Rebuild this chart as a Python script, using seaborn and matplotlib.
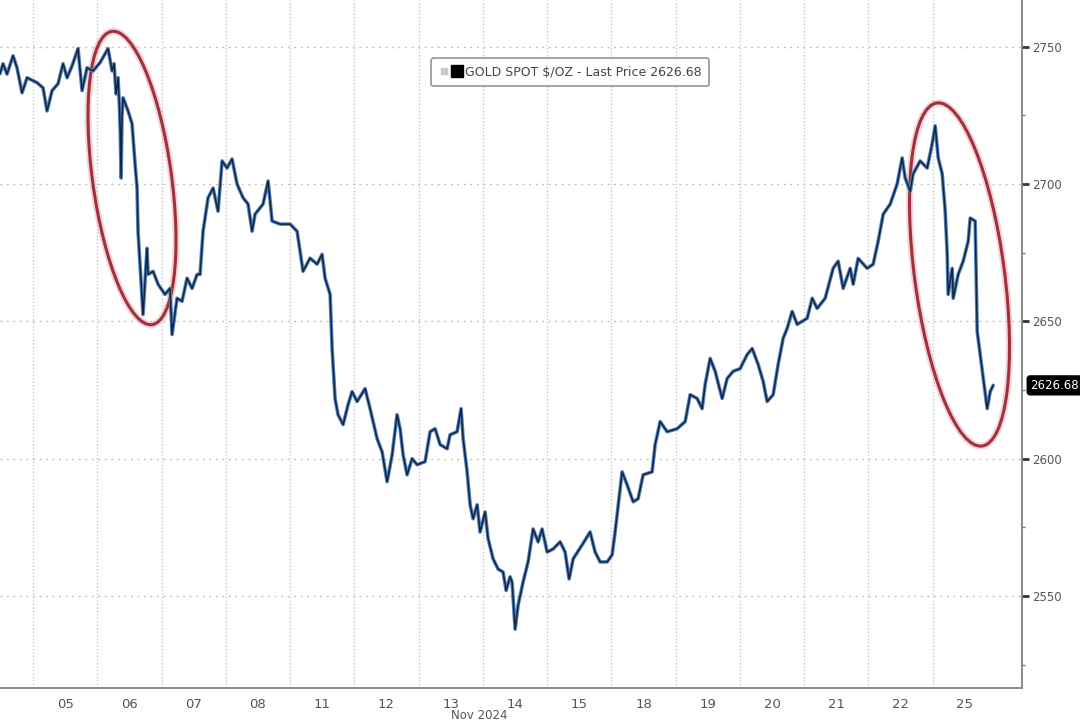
import numpy as np
import pandas as pd
import matplotlib
matplotlib.use("Agg")
import matplotlib.pyplot as plt
import seaborn as sns
from matplotlib.patches import Ellipse
from matplotlib.lines import Line2D
from matplotlib.legend_handler import HandlerTuple
import matplotlib.transforms as mtransforms

# trading days shown on the axis (Nov 2024)
days = ["05", "06", "07", "08", "11", "12", "13", "14", "15", "18", "19", "20", "21", "22", "25"]

# position in trading days from the start of Nov 05
t = [-0.514, -0.467, -0.405, -0.311, -0.249, -0.171, -0.093, 0.062, 0.156, 0.218,
     0.296, 0.389, 0.467, 0.529, 0.607, 0.700, 0.763, 0.840, 0.934, 1.043,
     1.167, 1.230, 1.261, 1.292, 1.323, 1.345, 1.357, 1.370, 1.385, 1.401,
     1.479, 1.541, 1.588, 1.619, 1.634, 1.696, 1.712, 1.774, 1.790, 1.868,
     1.946, 2.054, 2.132, 2.163, 2.241, 2.319, 2.397, 2.475, 2.553, 2.599,
     2.646, 2.724, 2.802, 2.879, 2.942, 3.019, 3.097, 3.175, 3.268, 3.346,
     3.409, 3.455, 3.580, 3.658, 3.720, 3.844, 4.000, 4.109, 4.156, 4.202,
     4.311, 4.420, 4.498, 4.545, 4.623, 4.654, 4.700, 4.747, 4.825, 4.903,
     4.965, 5.043, 5.167, 5.245, 5.354, 5.432, 5.510, 5.588, 5.665, 5.712,
     5.759, 5.821, 5.899, 5.977, 6.101, 6.179, 6.257, 6.335, 6.444, 6.490,
     6.599, 6.661, 6.693, 6.755, 6.802, 6.848, 6.911, 6.957, 7.035, 7.082,
     7.160, 7.237, 7.315, 7.362, 7.424, 7.455, 7.502, 7.549, 7.626, 7.704,
     7.782, 7.860, 7.922, 8.000, 8.093, 8.202, 8.280, 8.342, 8.405, 8.545,
     8.669, 8.747, 8.825, 8.934, 9.012, 9.058, 9.167, 9.245, 9.339, 9.416,
     9.494, 9.634, 9.681, 9.759, 9.868, 10.023, 10.148, 10.226, 10.335, 10.412,
     10.459, 10.537, 10.615, 10.724, 10.802, 10.895, 11.004, 11.113, 11.191, 11.284,
     11.362, 11.424, 11.518, 11.595, 11.673, 11.735, 11.813, 11.891, 12.047, 12.125,
     12.202, 12.327, 12.451, 12.529, 12.607, 12.716, 12.763, 12.840, 12.981, 13.074,
     13.152, 13.230, 13.339, 13.447, 13.525, 13.572, 13.650, 13.696, 13.805, 13.914,
     13.992, 14.039, 14.086, 14.148, 14.195, 14.226, 14.241, 14.304, 14.319, 14.397,
     14.475, 14.553, 14.584, 14.661, 14.693, 14.739, 14.786, 14.848, 14.895, 14.942]

# gold spot price, $/oz
price = [2740.1, 2743.8, 2740.0, 2746.7, 2742.3, 2733.2, 2738.7, 2736.9, 2735.0, 2726.6,
         2734.0, 2736.5, 2743.8, 2738.7, 2743.0, 2749.3, 2734.0, 2742.3, 2741.2, 2744.2,
         2749.3, 2741.2, 2743.8, 2732.8, 2738.7, 2728.0, 2719.3, 2702.2, 2725.0, 2731.4,
         2726.6, 2721.9, 2707.3, 2698.5, 2682.8, 2658.4, 2652.5, 2676.6, 2667.1, 2668.2,
         2663.5, 2659.8, 2662.0, 2645.2, 2658.4, 2657.3, 2665.7, 2662.0, 2667.1, 2667.1,
         2682.8, 2695.0, 2698.5, 2690.1, 2708.4, 2705.8, 2709.1, 2700.0, 2695.0, 2692.7,
         2682.8, 2689.0, 2692.7, 2701.1, 2686.5, 2685.4, 2685.4, 2682.8, 2675.5, 2668.2,
         2673.0, 2670.8, 2674.4, 2665.7, 2659.8, 2640.1, 2621.9, 2616.0, 2612.4, 2619.7,
         2624.4, 2620.8, 2625.5, 2618.2, 2607.3, 2602.5, 2591.6, 2601.4, 2616.0, 2610.9,
         2601.4, 2594.1, 2600.0, 2597.8, 2598.9, 2609.8, 2610.9, 2605.1, 2603.6, 2608.7,
         2609.8, 2618.2, 2607.3, 2595.2, 2583.2, 2578.1, 2583.2, 2573.3, 2580.6, 2570.8,
         2563.5, 2559.8, 2558.7, 2552.0, 2557.0, 2555.0, 2537.9, 2546.7, 2555.1, 2562.4,
         2574.4, 2569.7, 2574.4, 2566.0, 2567.1, 2569.7, 2566.0, 2556.2, 2563.5, 2568.6,
         2573.3, 2566.0, 2562.4, 2562.4, 2565.0, 2573.3, 2595.2, 2590.5, 2584.3, 2585.4,
         2594.1, 2595.2, 2605.1, 2613.5, 2609.8, 2610.9, 2613.5, 2623.3, 2621.9, 2618.2,
         2627.0, 2636.5, 2631.8, 2621.9, 2629.2, 2631.8, 2632.8, 2637.9, 2640.1, 2634.3,
         2628.1, 2620.8, 2623.3, 2634.3, 2643.8, 2647.4, 2653.6, 2648.9, 2651.1, 2658.4,
         2654.7, 2658.4, 2669.3, 2671.9, 2662.0, 2669.3, 2663.5, 2672.9, 2669.3, 2670.8,
         2679.2, 2689.0, 2692.7, 2700.0, 2709.5, 2702.2, 2697.4, 2703.7, 2708.4, 2705.8,
         2714.6, 2721.2, 2709.5, 2703.7, 2690.1, 2674.4, 2659.8, 2669.3, 2658.4, 2667.1,
         2671.9, 2679.2, 2687.6, 2686.5, 2646.3, 2637.9, 2629.2, 2618.2, 2624.4, 2626.7]

last_price = 2626.68
major_ticks = [2550, 2600, 2650, 2700, 2750]
minor_ticks = [2525, 2575, 2625, 2675, 2725]

df = pd.DataFrame({"t": t, "price": price})

sns.set_style("white")
plt.rcParams["font.family"] = ["DejaVu Sans"]

fig = plt.figure(figsize=(10.8, 7.21), dpi=100)
ax = fig.add_axes([0.0, 0.0458, 0.9463, 0.9542])

# blue body with a dark core, like the terminal line
sns.lineplot(data=df, x="t", y="price", ax=ax, color="#4f82c2", lw=2.6, estimator=None, sort=False)
sns.lineplot(data=df, x="t", y="price", ax=ax, color="#0e1a2c", lw=1.1, alpha=0.9, estimator=None, sort=False)

ax.set_xlim(-0.514, 15.39)
ax.set_ylim(2516.5, 2767)

# grid: day boundaries and price levels
ax.set_xticks(np.arange(len(days)), minor=True)
ax.set_xticks(np.arange(len(days)) + 0.5)
ax.set_xticklabels(days)
ax.yaxis.tick_right()
ax.set_yticks(major_ticks)
ax.set_yticks(minor_ticks, minor=True)
ax.grid(which="minor", axis="x", color="#c8c8c8", lw=1.0, ls=(0, (1, 1.5)))
ax.grid(which="major", axis="y", color="#b8b8b8", lw=1.0, ls=(0, (1.2, 3.5)))
ax.grid(which="major", axis="x", visible=False)

ax.tick_params(axis="x", which="both", length=0, pad=7, labelsize=9.5, labelcolor="#555555")
ax.tick_params(axis="y", which="major", length=5, width=2, color="#333333", pad=2,
               labelsize=8.5, labelcolor="#555555")
ax.tick_params(axis="y", which="minor", length=2, width=1, color="#777777")
ax.set_xlabel("")
ax.set_ylabel("")
for s in ["left", "top"]:
    ax.spines[s].set_visible(False)
for s in ["right", "bottom"]:
    ax.spines[s].set_color("#8a8a8a")
    ax.spines[s].set_linewidth(1.4)

fig.text(0.444, 0.017, "Nov 2024", ha="center", va="top", fontsize=8.5, color="#555555")

# legend box
h_small = Line2D([], [], marker="s", ls="none", color="#c8c8c8", markersize=4)
h_big = Line2D([], [], marker="s", ls="none", color="black", markersize=8)
leg = ax.legend(handles=[(h_small, h_big)], labels=["GOLD SPOT $/OZ - Last Price 2626.68"],
                handler_map={tuple: HandlerTuple(ndivide=None, pad=0.3)},
                loc="center", bbox_to_anchor=(0.558, 0.895), frameon=True, fancybox=True,
                fontsize=9, handlelength=1.8, handletextpad=0.3, borderpad=0.6)
leg.get_frame().set_edgecolor("#7a7a7a")
leg.get_frame().set_linewidth(1.2)
for txt in leg.get_texts():
    txt.set_color("#444444")

# last price tag on the right axis
trans = mtransforms.blended_transform_factory(ax.transAxes, ax.transData)
ax.text(1.008, last_price, f"{last_price:.2f}", transform=trans, ha="left", va="center",
        fontsize=8.5, color="white", clip_on=False,
        bbox=dict(boxstyle="round,pad=0.25", fc="black", ec="black"))

# red circles drawn in inches so they keep their shape
for cx, cy, w, h, ang in [(1.32, 5.43, 0.79, 2.96, 7.8), (9.595, 4.465, 0.90, 3.46, 7.5)]:
    glow = Ellipse((cx, cy), w, h, angle=ang, transform=fig.dpi_scale_trans,
                   fill=False, ec="#e8a0a8", lw=5, alpha=0.45, clip_on=False)
    ring = Ellipse((cx, cy), w, h, angle=ang, transform=fig.dpi_scale_trans,
                   fill=False, ec="#a0303c", lw=2.2, clip_on=False)
    ax.add_artist(glow)
    ax.add_artist(ring)

fig.savefig("out.png", dpi=100)
